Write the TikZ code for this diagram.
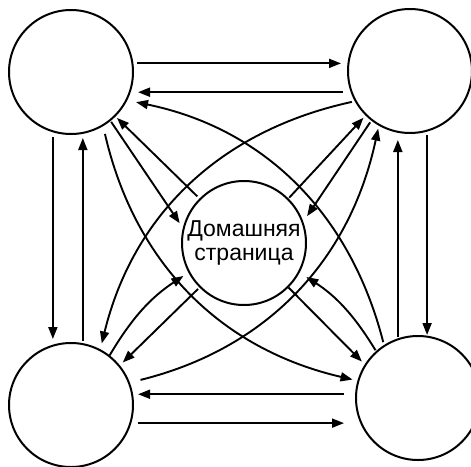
\documentclass[tikz,border=0pt]{standalone}
\usepackage{fontspec}
\setmainfont{Liberation Sans}
\usetikzlibrary{arrows.meta}
\begin{document}
\begin{tikzpicture}[x=1pt,y=-1pt,
  page/.style={circle,draw,line width=2pt,minimum size=124pt,inner sep=0pt,outer sep=0pt},
  arr/.style={line width=1.9pt,-{Triangle[length=12pt,width=9pt]}},
  bigcurve/.style={arr,bend right=32},
]
\useasboundingbox (0,0) rectangle (471,466);
\node[page] (TL) at (71,72) {};
\node[page] (TR) at (410,71) {};
\node[page] (BL) at (71,405) {};
\node[page] (BR) at (418,398) {};
\node[page,align=center,font=\fontsize{23}{24}\selectfont] (C) at (244,243) {Домашняя\\страница};

% horizontal
\draw[arr,shorten <=5pt,shorten >=7pt] (TL.8) -- (TL.8 -| TR.west);
\draw[arr,shorten <=9pt,shorten >=5pt] (TR.-160) -- (TR.-160 -| TL.east);
\draw[arr,shorten <=12pt,shorten >=6pt] (BL.10 -| BR.west) -- (BL.10);
\draw[arr,shorten <=8pt,shorten >=12pt] (BL.-17) -- (BL.-17 -| BR.west);
% vertical
\draw[arr,shorten <=6pt,shorten >=4pt] (TL.-107) -- (TL.-107 |- BL.north);
\draw[arr,shorten <=3pt,shorten >=4pt] (BL.79) -- (BL.79 |- TL.south);
\draw[arr,shorten <=2pt,shorten >=7pt] (BR.109) -- (BR.109 |- TR.south);
\draw[arr,shorten <=4pt,shorten >=1pt] (TR.-74) -- (TR.-74 |- BR.north);
% to and from the home page
\draw[arr,shorten <=2pt,shorten >=7pt] (TL.-51) -- (C.167);
\draw[arr,shorten <=4pt,shorten >=3pt] (C.135) -- (TL.-45);
\draw[arr,shorten <=2pt,shorten >=4pt] (C.45) -- (TR.-135);
\draw[arr,shorten <=3pt,shorten >=8pt] (TR.-128) -- (C.19);
\draw[arr,shorten <=1pt,shorten >=7pt] (BL.52) to[bend left=13] (C.-152);
\draw[arr,shorten <=3pt,shorten >=5pt] (C.-135) -- (BL.39);
\draw[arr,shorten <=1pt,shorten >=5pt] (C.-45) -- (BR.148);
\draw[arr,shorten <=2pt,shorten >=9pt] (BR.132) to[bend right=13] (C.-28);
% long curves
\draw[bigcurve,shorten <=4pt,shorten >=10pt] (BR.123) to (TL.-27);
\draw[bigcurve,shorten <=4pt,shorten >=7pt] (TR.-151) to (BL.62);
\draw[bigcurve,shorten <=9pt,shorten >=6pt] (TL.-59) to (BR.164);
\draw[bigcurve,shorten <=12pt,shorten >=4pt] (BL.21) to (TR.-120);
\end{tikzpicture}
\end{document}
